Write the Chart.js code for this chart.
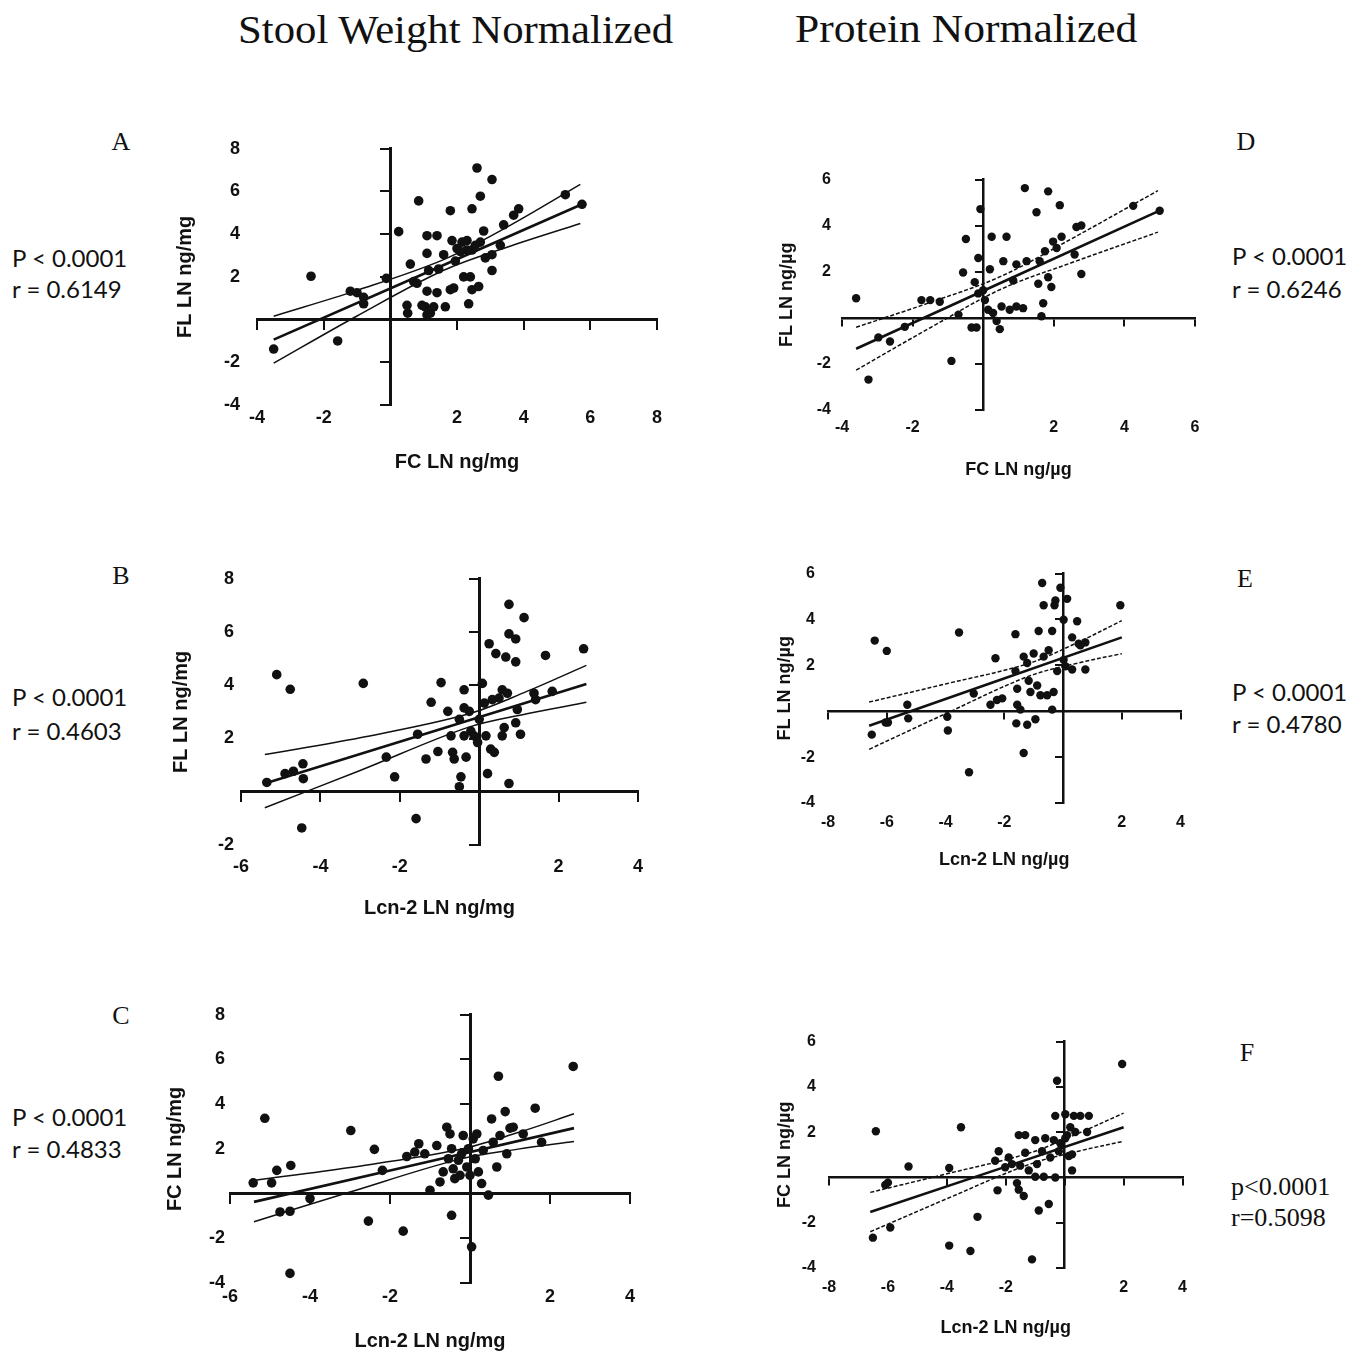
<!DOCTYPE html>
<html>
<head>
<meta charset="utf-8">
<script src="https://cdn.jsdelivr.net/npm/chart.js@4.4.1/dist/chart.umd.min.js"></script>
<style>
  body { margin: 0; background: #fff; }
  #page { position: relative; width: 1360px; height: 1353px; overflow: hidden; background: #fff; }
  .txt { position: absolute; white-space: nowrap; color: #111; line-height: 1; }
  .head { font-family: "Liberation Serif", serif; font-size: 40px; transform-origin: 0 50%; }
  .letter { font-family: "Liberation Serif", serif; font-size: 26px; transform: translate(-50%, -50%); }
  .stat { font-family: Lato, "Open Sans", sans-serif; font-size: 24px; transform: translate(0, -50%); }
  .stat.serif { font-family: "Liberation Serif", serif; font-size: 26px; }
  canvas { position: absolute; }
</style>
</head>
<body>
<div id="page">
  <div class="txt head" id="h1" style="left:238px; top:10px;">Stool Weight Normalized</div>
  <div class="txt head" id="h2" style="left:795px; top:9px;">Protein Normalized</div>

  <div class="txt letter" style="left:121px; top:142px;">A</div>
  <div class="txt letter" style="left:121px; top:576px;">B</div>
  <div class="txt letter" style="left:121px; top:1016px;">C</div>
  <div class="txt letter" style="left:1246px; top:142px;">D</div>
  <div class="txt letter" style="left:1245px; top:579px;">E</div>
  <div class="txt letter" style="left:1247px; top:1053px;">F</div>

  <div class="txt stat" style="left:12px; top:258px;">P &lt; 0.0001</div>
  <div class="txt stat" style="left:12px; top:289px;">r = 0.6149</div>
  <div class="txt stat" style="left:12px; top:697px;">P &lt; 0.0001</div>
  <div class="txt stat" style="left:12px; top:731px;">r = 0.4603</div>
  <div class="txt stat" style="left:12px; top:1117px;">P &lt; 0.0001</div>
  <div class="txt stat" style="left:12px; top:1149px;">r = 0.4833</div>
  <div class="txt stat" style="left:1232px; top:256px;">P &lt; 0.0001</div>
  <div class="txt stat" style="left:1232px; top:289px;">r = 0.6246</div>
  <div class="txt stat" style="left:1232px; top:692px;">P &lt; 0.0001</div>
  <div class="txt stat" style="left:1232px; top:724px;">r = 0.4780</div>
  <div class="txt stat serif" style="left:1231px; top:1187px;">p&lt;0.0001</div>
  <div class="txt stat serif" style="left:1231px; top:1218px;">r=0.5098</div>
</div>
<script>
// ---- data ----
// A: FC LN ng/mg (x) vs FL LN ng/mg (y)
const aPoints = [
  [-3.5,-1.38],[-2.38,2.03],[-1.58,-1.0],[-1.2,1.33],[-1.0,1.26],[-0.8,1.04],[-0.8,0.74],[-0.12,1.93],
  [0.25,4.12],[0.85,5.56],[0.5,0.67],[0.52,0.3],[0.6,2.6],[0.7,1.78],[0.8,1.7],[0.95,0.67],[1.05,0.6],
  [1.1,0.22],[1.2,0.3],[1.3,0.6],[1.1,1.33],[1.4,1.26],[1.1,3.1],[1.1,3.93],[1.4,3.93],[1.15,2.3],
  [1.45,2.37],[1.65,0.6],[1.6,3.04],[1.8,1.4],[1.9,1.48],[1.8,5.1],[1.85,3.7],[1.95,2.74],[2.0,3.33],
  [2.15,3.63],[2.2,2.0],[2.3,3.7],[2.35,0.74],[2.4,2.0],[2.45,3.26],[2.45,5.19],[2.45,1.4],[2.6,7.1],
  [2.65,1.55],[2.7,5.78],[2.7,3.63],[2.8,4.15],[2.85,2.89],[3.05,6.56],[3.05,2.3],[3.05,3.04],[3.3,3.48],
  [3.4,4.44],[3.7,4.89],[3.85,5.19],[5.25,5.85],[5.75,5.4],[2.55,3.48],[2.3,3.26],[2.1,3.19]
];
const aFitX = [-3.5, 5.75];
const aFitY = [-0.94, 5.4];
const aBandX = [-3.5, -1, 1.6, 3.5, 5.7];
const aUpper = [0.16, 1.37, 2.81, 4.33, 6.33];
const aLower = [-2.04, 0.17, 2.31, 3.39, 4.5];

// B: Lcn-2 LN ng/mg (x) vs FL LN ng/mg (y)
const bPoints = [
  [-5.35,0.35],[-5.1,4.4],[-4.89,0.68],[-4.76,3.85],[-4.68,0.77],[-4.47,-1.36],[-4.44,1.05],[-4.43,0.49],
  [-2.92,4.07],[-2.34,1.3],[-2.13,0.56],[-1.59,-1.01],[-1.55,2.16],[-1.34,1.23],[-1.21,3.36],[-1.04,1.51],
  [-0.96,4.1],[-0.79,3.02],[-0.71,2.1],[-0.67,1.48],[-0.63,1.23],[-0.5,0.19],[-0.46,0.56],[-0.5,2.72],
  [-0.38,3.83],[-0.38,3.15],[-0.38,2.1],[-0.33,1.3],[-0.25,3.02],[-0.21,2.28],[-0.13,2.1],[-0.04,1.85],
  [0,2.72],[0.08,4.07],[0.13,3.33],[0.17,2.1],[0.21,0.68],[0.25,5.56],[0.29,1.6],[0.33,3.46],[0.38,1.48],
  [0.42,5.19],[0.5,3.52],[0.58,2.1],[0.58,3.83],[0.63,2.41],[0.67,5.06],[0.71,3.7],[0.75,0.31],[0.75,7.04],
  [0.75,5.93],[0.92,5.74],[0.92,4.88],[0.92,2.59],[0.96,3.09],[1.04,2.16],[1.13,6.54],[1.38,3.7],
  [1.67,5.12],[1.84,3.77],[2.63,5.37],[1.42,3.46]
];
const bFitX = [-5.4, 2.7];
const bFitY = [0.31, 4.05];
const bBandX = [-5.4, -3, -0.3, 1.2, 2.7];
const bUpper = [1.4, 2.03, 2.91, 3.77, 4.75];
const bLower = [-0.6, 0.8, 2.41, 2.93, 3.36];

// C: Lcn-2 LN ng/mg (x) vs FC LN ng/mg (y)
const cPoints = [
  [-5.42,0.48],[-5.13,3.37],[-4.96,0.48],[-4.83,1.04],[-4.75,-0.82],[-4.5,-0.79],[-4.5,-3.57],[-4.48,1.26],
  [-4.0,-0.22],[-2.98,2.82],[-2.54,-1.23],[-2.39,1.98],[-2.19,1.04],[-1.67,-1.68],[-1.58,1.66],[-1.38,1.86],
  [-1.28,2.23],[-1.13,1.78],[-1.0,0.15],[-0.83,2.15],[-0.75,0.52],[-0.67,0.97],[-0.58,2.97],[-0.54,1.56],
  [-0.5,2.67],[-0.46,2.01],[-0.46,-0.97],[-0.42,1.11],[-0.38,0.67],[-0.29,1.49],[-0.25,0.82],[-0.21,1.78],
  [-0.17,2.6],[-0.08,1.19],[-0.04,2.01],[0,0.82],[0.04,-2.38],[0.08,2.45],[0.13,1.56],[0.17,2.67],
  [0.21,0.97],[0.29,0.45],[0.33,1.93],[0.46,-0.07],[0.54,3.34],[0.58,2.3],[0.67,1.19],[0.71,5.25],
  [0.75,2.6],[0.88,3.67],[0.92,1.78],[1.0,2.93],[1.08,2.97],[1.33,2.67],[1.63,3.82],[1.79,2.3],[2.58,5.69]
];
const cFitX = [-5.4, 2.6];
const cFitY = [-0.37, 2.93];
const cBandX = [-5.4, -3, -0.3, 1.2, 2.6];
const cUpper = [0.59, 1.17, 1.96, 2.73, 3.57];
const cLower = [-1.26, 0.07, 1.52, 1.99, 2.33];

// D: FC LN ng/µg (x) vs FL LN ng/µg (y)
const dPoints = [
  [-3.6,0.85],[-3.25,-2.68],[-2.97,-0.85],[-2.64,-1.03],[-2.22,-0.39],[-1.75,0.77],[-1.5,0.77],[-1.23,0.7],
  [-0.9,-1.87],[-0.7,0.14],[-0.57,1.97],[-0.49,3.42],[-0.33,-0.42],[-0.19,-0.42],[-0.24,1.55],[-0.14,1.06],
  [-0.08,4.72],[-0.14,2.6],[0,1.2],[0.05,0.77],[0.14,0.35],[0.19,2.11],[0.24,3.52],[0.28,0.21],[0.38,-0.14],
  [0.47,-0.49],[0.52,0.49],[0.57,2.46],[0.66,3.52],[0.75,0.35],[0.85,1.62],[0.94,0.49],[0.94,2.32],
  [1.13,0.42],[1.18,5.63],[1.23,2.46],[1.51,4.58],[1.56,1.48],[1.6,2.46],[1.65,0.07],[1.7,0.63],
  [1.75,2.89],[1.84,5.49],[1.84,1.76],[1.93,1.34],[1.98,3.31],[2.17,4.89],[2.22,3.52],[2.59,2.75],
  [2.64,3.94],[2.78,4.01],[2.78,1.9],[4.25,4.86],[5.0,4.65],[2.08,3.03]
];
const dFitX = [-3.6, 4.95];
const dFitY = [-1.34, 4.62];
const dBandX = [-3.6, -1.5, 0.5, 2.5, 4.95];
const dUpper = [-0.41, 0.67, 1.8, 3.43, 5.52];
const dLower = [-2.27, -0.43, 1.24, 2.39, 3.72];

// E: Lcn-2 LN ng/µg (x) vs FL LN ng/µg (y)
const ePoints = [
  [-6.51,-1.02],[-6.41,3.08],[-6.04,-0.49],[-6.0,2.63],[-5.96,-0.49],[-5.3,0.28],[-5.27,-0.31],[-3.94,-0.24],
  [-3.92,-0.84],[-3.54,3.43],[-3.2,-2.66],[-3.04,0.77],[-2.47,0.28],[-2.3,2.31],[-2.25,0.49],[-2.07,0.56],
  [-1.62,3.36],[-1.62,1.75],[-1.56,0.98],[-1.56,0.28],[-1.59,-0.53],[-1.45,0.07],[-1.34,2.38],[-1.34,-1.82],
  [-1.22,-0.59],[-1.22,2.1],[-1.17,1.33],[-1.11,0.84],[-1.0,2.52],[-0.94,-0.35],[-0.88,1.12],[-0.83,3.5],
  [-0.77,0.7],[-0.71,5.59],[-0.66,2.38],[-0.66,4.62],[-0.54,0.7],[-0.49,2.66],[-0.37,3.5],[-0.37,0.07],
  [-0.32,0.84],[-0.29,4.62],[-0.26,4.83],[-0.2,1.75],[-0.09,5.38],[0.02,3.99],[0.02,2.24],[0.08,1.96],
  [0.14,4.9],[0.31,1.82],[0.31,3.22],[0.48,3.92],[0.59,2.87],[0.76,1.82],[1.95,4.62],[0.53,2.94],[0.76,3.0]
];
const eFitX = [-6.6, 2.0];
const eFitY = [-0.63, 3.22];
const eBandX = [-6.6, -4, -1.2, 0.5, 2.0];
const eUpper = [0.4, 1.19, 2.07, 3.0, 3.95];
const eLower = [-1.66, -0.11, 1.51, 2.1, 2.51];

// F: Lcn-2 LN ng/µg (x) vs FC LN ng/µg (y)
const fPoints = [
  [-6.51,-2.66],[-6.41,2.04],[-6.09,-0.33],[-6.0,-0.23],[-5.92,-2.21],[-5.3,0.48],[-3.92,0.42],[-3.92,-3.01],
  [-3.52,2.22],[-3.2,-3.25],[-2.96,-1.74],[-2.28,-0.57],[-2.24,1.16],[-2.36,0.74],[-2.02,0.45],[-1.9,0.88],
  [-1.79,0.59],[-1.62,-0.25],[-1.56,-0.54],[-1.56,1.87],[-1.51,0.52],[-1.39,-0.82],[-1.34,1.87],[-1.34,1.09],
  [-1.22,0.31],[-1.11,-3.62],[-1.0,1.65],[-1.0,0.03],[-0.94,0.59],[-0.88,-1.46],[-0.77,1.16],[-0.71,0.03],
  [-0.66,1.73],[-0.54,-1.17],[-0.49,0.88],[-0.37,1.65],[-0.32,0.0],[-0.26,4.27],[-0.32,2.72],[-0.2,1.16],
  [-0.15,1.51],[0.02,2.79],[0.08,1.87],[0.14,0.95],[0.19,2.22],[0.25,0.31],[0.31,2.72],[0.36,2.01],
  [0.53,2.72],[0.76,2.01],[0.82,2.72],[1.95,5.01],[0.02,1.73],[0.25,1.02]
];
const fFitX = [-6.6, 2.0];
const fFitY = [-1.53, 2.22];
const fBandX = [-6.6, -4, -1.2, 0.5, 2.0];
const fUpper = [-0.66, 0.16, 1.08, 1.97, 2.84];
const fLower = [-2.4, -0.94, 0.58, 1.17, 1.6];

// ---- layout of each panel (chart area in page pixels) ----
const INK = "#111";
const panels = [
  { points: aPoints, fitX: aFitX, fitY: aFitY, bandX: aBandX, upper: aUpper, lower: aLower,
    area: [257, 657, 135, 405], xr: [-4, 8], yr: [-4, 8], yw: 88, xh: 73, xPad: 2, yPad: 17,
    xTitle: "FC LN ng/mg", yTitle: "FL LN ng/mg", tickSize: 18, titleSize: 20, dot: 4.8, axisW: 3, tick: 9, dash: [] },
  { points: bPoints, fitX: bFitX, fitY: bFitY, bandX: bBandX, upper: bUpper, lower: bLower,
    area: [241, 640, 575, 845], xr: [-6, 4], yr: [-2, 8], yw: 76, xh: 79, xPad: 11, yPad: 7,
    xTitle: "Lcn-2 LN ng/mg", yTitle: "FL LN ng/mg", tickSize: 18, titleSize: 20, dot: 4.8, axisW: 3, tick: 9, dash: [] },
  { points: cPoints, fitX: cFitX, fitY: cFitY, bandX: cBandX, upper: cUpper, lower: cLower,
    area: [230, 630, 1013, 1283], xr: [-6, 4], yr: [-4, 8], yw: 71, xh: 74, xPad: 3, yPad: 5,
    xTitle: "Lcn-2 LN ng/mg", yTitle: "FC LN ng/mg", tickSize: 18, titleSize: 20, dot: 4.8, axisW: 3, tick: 9, dash: [] },
  { points: dPoints, fitX: dFitX, fitY: dFitY, bandX: dBandX, upper: dUpper, lower: dLower,
    area: [842, 1195, 173, 410], xr: [-4, 6], yr: [-4, 6], yw: 70, xh: 75, xPad: 8, yPad: 11,
    xTitle: "FC LN ng/µg", yTitle: "FL LN ng/µg", tickSize: 16, titleSize: 18, dot: 4.2, axisW: 2.5, tick: 7, dash: [4, 2] },
  { points: ePoints, fitX: eFitX, fitY: eFitY, bandX: eBandX, upper: eUpper, lower: eLower,
    area: [828, 1181, 565, 803], xr: [-8, 4], yr: [-4, 6], yw: 58, xh: 72, xPad: 10, yPad: 13,
    xTitle: "Lcn-2 LN ng/µg", yTitle: "FL LN ng/µg", tickSize: 16, titleSize: 18, dot: 4.2, axisW: 2.5, tick: 7, dash: [4, 2] },
  { points: fPoints, fitX: fFitX, fitY: fFitY, bandX: fBandX, upper: fUpper, lower: fLower,
    area: [829, 1183, 1033, 1268], xr: [-8, 4], yr: [-4, 6], yw: 59, xh: 75, xPad: 10, yPad: 13,
    xTitle: "Lcn-2 LN ng/µg", yTitle: "FC LN ng/µg", tickSize: 16, titleSize: 18, dot: 4.2, axisW: 2.5, tick: 7, dash: [4, 2] }
];

const page = document.getElementById("page");

function makeChart(p) {
  const padL = 2, padT = 14, padR = 14, padB = 2;
  const [L, R, T, B] = p.area;
  const left = L - p.yw - padL;
  const top = T - padT;
  const w = R + padR - left;
  const h = B + p.xh + padB - top;

  const cv = document.createElement("canvas");
  cv.width = w;
  cv.height = h;
  cv.style.left = left + "px";
  cv.style.top = top + "px";
  page.appendChild(cv);

  const tickFont = { family: "Liberation Sans", weight: "bold", size: p.tickSize };
  const titleFont = { family: "Liberation Sans", weight: "bold", size: p.titleSize };
  const label = (v) => (v === 0 ? "" : v);
  const band = (ys) => p.bandX.map((x, i) => ({ x: x, y: ys[i] }));
  const lineSet = (data, width, dash) => ({
    data: data, showLine: true, pointRadius: 0, borderColor: INK, borderWidth: width,
    borderDash: dash, tension: 0.35, xAxisID: "x", yAxisID: "y",
  });

  new Chart(cv, {
    type: "scatter",
    data: {
      datasets: [
        {
          data: p.points.map(([x, y]) => ({ x: x, y: y })),
          pointRadius: p.dot, backgroundColor: INK, borderWidth: 0,
          xAxisID: "x", yAxisID: "y",
        },
        lineSet(p.fitX.map((x, i) => ({ x: x, y: p.fitY[i] })), 2.6, []),
        lineSet(band(p.upper), 1.5, p.dash),
        lineSet(band(p.lower), 1.5, p.dash),
      ],
    },
    options: {
      responsive: false,
      animation: false,
      layout: { padding: { left: padL, top: padT, right: padR, bottom: padB } },
      plugins: { legend: { display: false }, tooltip: { enabled: false } },
      scales: {
        x: {
          type: "linear", position: "bottom", min: p.xr[0], max: p.xr[1],
          ticks: { stepSize: 2, autoSkip: false, maxRotation: 0, padding: p.xPad, font: tickFont, color: INK, callback: label },
          grid: { display: false, drawTicks: false },
          border: { display: false },
          title: { display: true, text: p.xTitle, font: titleFont, color: INK, padding: { top: 4, bottom: 4 } },
          afterFit: (s) => { s.height = p.xh; },
        },
        y: {
          type: "linear", position: "left", min: p.yr[0], max: p.yr[1],
          ticks: { stepSize: 2, autoSkip: false, padding: p.yPad, font: tickFont, color: INK, callback: label },
          grid: { display: false, drawTicks: false },
          border: { display: false },
          title: { display: true, text: p.yTitle, font: titleFont, color: INK, padding: { top: 4, bottom: 4 } },
          afterFit: (s) => { s.width = p.yw; },
        },
        // axes crossing at the origin
        x0: {
          type: "linear", axis: "x", position: { y: 0 }, min: p.xr[0], max: p.xr[1],
          ticks: { display: false, stepSize: 2 },
          grid: { drawOnChartArea: false, drawTicks: true, tickLength: p.tick, lineWidth: 2, color: INK },
          border: { display: true, width: p.axisW, color: INK },
        },
        y0: {
          type: "linear", axis: "y", position: { x: 0 }, min: p.yr[0], max: p.yr[1],
          ticks: { display: false, stepSize: 2 },
          grid: { drawOnChartArea: false, drawTicks: true, tickLength: p.tick, lineWidth: 2, color: INK },
          border: { display: true, width: p.axisW, color: INK },
        },
      },
    },
  });
}

panels.forEach(makeChart);

// stretch the column headings to the width they take in the figure
function fitWidth(id, target) {
  const el = document.getElementById(id);
  el.style.transform = "scaleX(" + target / el.offsetWidth + ")";
}
fitWidth("h1", 435);
fitWidth("h2", 342);
</script>
</body>
</html>
